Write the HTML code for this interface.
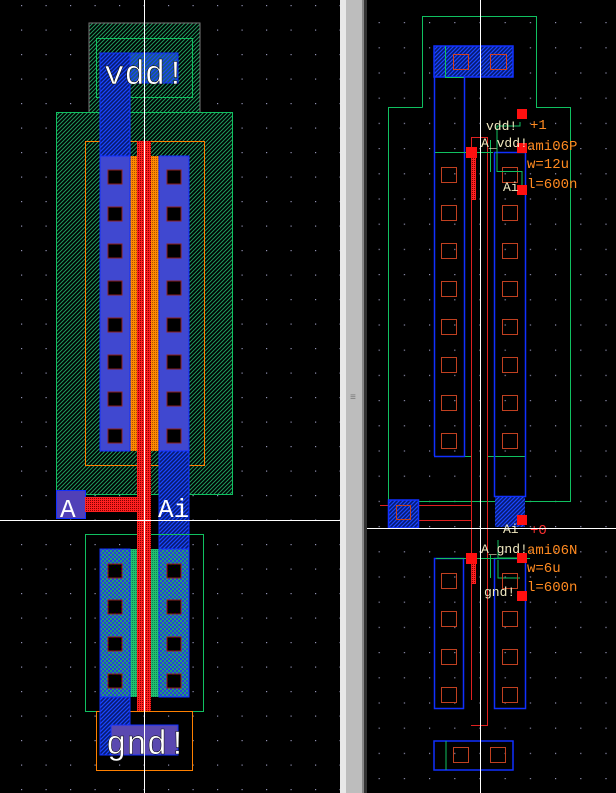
<!DOCTYPE html>
<html><head><meta charset="utf-8"><style>
html,body{margin:0;padding:0;background:#000;overflow:hidden}
svg{display:block}
text{font-family:"Liberation Mono","DejaVu Sans Mono",monospace}
</style></head><body>
<svg width="616" height="793" viewBox="0 0 616 793" xmlns="http://www.w3.org/2000/svg">
<defs>
<pattern id="gh" width="4" height="4" patternUnits="userSpaceOnUse"><rect width="4" height="4" fill="#000"/><path d="M-1,1 L1,-1 M0,4 L4,0 M3,5 L5,3" stroke="#1f9a5e" stroke-width="1"/></pattern>
<pattern id="bh" width="4" height="4" patternUnits="userSpaceOnUse"><rect width="4" height="4" fill="#061a70"/><path d="M-1,1 L1,-1 M0,4 L4,0 M3,5 L5,3" stroke="#1a46ff" stroke-width="1.2"/></pattern>
<pattern id="bgh" width="4" height="4" patternUnits="userSpaceOnUse"><rect width="4" height="4" fill="#1a5a7a"/><path d="M-1,1 L1,-1 M0,4 L4,0 M3,5 L5,3" stroke="#1a46ff" stroke-width="1.2"/></pattern>
<pattern id="pg" width="4" height="4" patternUnits="userSpaceOnUse"><rect width="4" height="4" fill="#2a3ae0"/><rect width="2" height="2" fill="#20a070"/><rect x="2" y="2" width="2" height="2" fill="#20a070"/></pattern>
<pattern id="or" width="2" height="2" patternUnits="userSpaceOnUse"><rect width="2" height="2" fill="#ff8a00"/><rect width="1" height="1" fill="#b05000"/></pattern>
<pattern id="gr" width="2" height="2" patternUnits="userSpaceOnUse"><rect width="2" height="2" fill="#20c070"/><rect width="1" height="1" fill="#108050"/></pattern>
<pattern id="rd" width="2" height="2" patternUnits="userSpaceOnUse"><rect width="2" height="2" fill="#ff2020"/><rect width="1" height="1" fill="#800000"/></pattern>
<pattern id="dots" x="21" y="5" width="24.5" height="24.5" patternUnits="userSpaceOnUse"><rect x="0" y="0" width="1.2" height="1.2" fill="#9090b0"/></pattern>
<pattern id="dots2" x="429" y="22" width="25.2" height="25.2" patternUnits="userSpaceOnUse"><rect x="0" y="0" width="1.2" height="1.2" fill="#9090b0"/></pattern>
</defs>
<rect width="616" height="793" fill="#000"/>
<rect x="0" y="0" width="340" height="793" fill="url(#dots)"/>
<rect x="367" y="0" width="249" height="793" fill="url(#dots2)"/>

<rect x="89" y="23" width="111" height="90" fill="url(#gh)" stroke="#777" stroke-width="1"/>
<rect x="96.5" y="38.5" width="96" height="59" fill="none" stroke="#10c060"/>
<rect x="56.5" y="112.5" width="176" height="382" fill="url(#gh)" stroke="#10c060"/>
<rect x="85.5" y="141.5" width="119" height="324" fill="none" stroke="#ff8000"/>
<rect x="100" y="53" width="78" height="30" fill="url(#bgh)" stroke="#1030ff"/>
<rect x="100" y="53" width="30" height="103" fill="url(#bh)" stroke="#1030ff"/>
<rect x="100" y="156" width="89" height="295" fill="url(#or)"/>
<rect x="100" y="156" width="30" height="295" fill="#4048d0" stroke="#1030ff"/>
<rect x="159" y="156" width="30" height="295" fill="#4048d0" stroke="#1030ff"/>
<rect x="137" y="141" width="14" height="390" fill="url(#rd)"/>
<g fill="#000" stroke="#8a2020">
<rect x="108" y="170" width="14" height="14"/><rect x="108" y="207" width="14" height="14"/><rect x="108" y="244" width="14" height="14"/><rect x="108" y="281" width="14" height="14"/><rect x="108" y="318" width="14" height="14"/><rect x="108" y="355" width="14" height="14"/><rect x="108" y="392" width="14" height="14"/><rect x="108" y="429" width="14" height="14"/>
<rect x="167" y="170" width="14" height="14"/><rect x="167" y="207" width="14" height="14"/><rect x="167" y="244" width="14" height="14"/><rect x="167" y="281" width="14" height="14"/><rect x="167" y="318" width="14" height="14"/><rect x="167" y="355" width="14" height="14"/><rect x="167" y="392" width="14" height="14"/><rect x="167" y="429" width="14" height="14"/>
</g>
<rect x="56.5" y="490.5" width="29" height="28" fill="#5040b8" stroke="#1030ff"/>
<rect x="85" y="497" width="52" height="15" fill="url(#rd)"/>
<rect x="159" y="451" width="30" height="100" fill="url(#bh)" stroke="#1030ff"/>
<text x="60" y="517" fill="#fff" font-size="26">A</text>
<text x="158" y="517" fill="#fff" font-size="26">Ai</text>
<rect x="85.5" y="534.5" width="118" height="177" fill="none" stroke="#10c060"/>
<rect x="100" y="549" width="89" height="148" fill="url(#gr)"/>
<rect x="100" y="549" width="30" height="148" fill="url(#pg)" stroke="#1030ff"/>
<rect x="159" y="549" width="30" height="148" fill="url(#pg)" stroke="#1030ff"/>
<rect x="137" y="531" width="14" height="180" fill="url(#rd)"/>
<g fill="#000" stroke="#8a2020">
<rect x="108" y="564" width="14" height="14"/><rect x="108" y="600" width="14" height="14"/><rect x="108" y="637" width="14" height="14"/><rect x="108" y="674" width="14" height="14"/>
<rect x="167" y="564" width="14" height="14"/><rect x="167" y="600" width="14" height="14"/><rect x="167" y="637" width="14" height="14"/><rect x="167" y="674" width="14" height="14"/>
</g>
<rect x="96.5" y="711.5" width="96" height="59" fill="none" stroke="#ff8000"/>
<rect x="100" y="697" width="30" height="58" fill="url(#bh)" stroke="#1030ff"/>
<rect x="111" y="725" width="67" height="30" fill="#5a48b0" stroke="#1030ff"/>
<text x="104" y="84" fill="#fff" font-size="34" style="stroke:#000;stroke-width:0.5">vdd!</text>
<text x="106" y="754" fill="#fff" font-size="34" style="stroke:#000;stroke-width:0.5">gnd!</text>
<line x1="144.5" y1="0" x2="144.5" y2="793" stroke="#fff"/>
<line x1="0" y1="520.5" x2="340" y2="520.5" stroke="#fff"/>

<rect x="340" y="0" width="27" height="793" fill="#e8e8e8"/>
<rect x="346" y="0" width="16" height="793" fill="#bdbdbd"/>
<rect x="362" y="0" width="2" height="793" fill="#888"/>
<rect x="364" y="0" width="3" height="793" fill="#333"/>
<text x="350" y="400" fill="#777" font-size="10">≡</text>

<polyline points="422.5,107.5 422.5,16.5 536.5,16.5 536.5,107.5 570.5,107.5 570.5,501.5 388.5,501.5 388.5,107.5 422.5,107.5" fill="none" stroke="#10c060"/>
<rect x="434" y="46" width="79" height="31" fill="url(#bh)" stroke="#1030ff" stroke-width="1.5"/>
<rect x="453.5" y="54.5" width="15" height="15" fill="none" stroke="#d04020"/>
<rect x="490.5" y="54.5" width="16" height="15" fill="none" stroke="#d04020"/>
<polyline points="445.5,46 445.5,77.5 464,77.5" fill="none" stroke="#10c060"/>
<line x1="434.5" y1="77" x2="434.5" y2="456" stroke="#1030ff" stroke-width="1.5"/>
<line x1="464.5" y1="77" x2="464.5" y2="456" stroke="#1030ff" stroke-width="1.5"/>
<line x1="434" y1="456.5" x2="465" y2="456.5" stroke="#1030ff" stroke-width="1.5"/>
<line x1="465" y1="456.5" x2="472" y2="456.5" stroke="#10c060"/>
<line x1="487" y1="456.5" x2="525" y2="456.5" stroke="#10c060"/>
<rect x="494.5" y="152.5" width="31" height="344" fill="none" stroke="#1030ff" stroke-width="1.5"/>
<rect x="495" y="497" width="30" height="30" fill="url(#bh)"/>
<polyline points="471.5,700 471.5,137.5 487.5,137.5 487.5,725" fill="none" stroke="#e02020"/>
<polyline points="380,505.5 471.5,505.5" fill="none" stroke="#e02020"/>
<line x1="418" y1="520.5" x2="471" y2="520.5" stroke="#e02020"/>
<g fill="none" stroke="#c04020">
<rect x="441.5" y="167.5" width="15" height="15"/><rect x="441.5" y="205.5" width="15" height="15"/><rect x="441.5" y="243.5" width="15" height="15"/><rect x="441.5" y="281.5" width="15" height="15"/><rect x="441.5" y="319.5" width="15" height="15"/><rect x="441.5" y="357.5" width="15" height="15"/><rect x="441.5" y="395.5" width="15" height="15"/><rect x="441.5" y="433.5" width="15" height="15"/>
<rect x="502.5" y="167.5" width="15" height="15"/><rect x="502.5" y="205.5" width="15" height="15"/><rect x="502.5" y="243.5" width="15" height="15"/><rect x="502.5" y="281.5" width="15" height="15"/><rect x="502.5" y="319.5" width="15" height="15"/><rect x="502.5" y="357.5" width="15" height="15"/><rect x="502.5" y="395.5" width="15" height="15"/><rect x="502.5" y="433.5" width="15" height="15"/>
</g>
<polyline points="435,152.5 493,152.5" stroke="#10c060" fill="none"/>
<polyline points="497,140 497,126 520,126 520,122" stroke="#10c060" fill="none"/>
<polyline points="497,140 497,171.5 522,171.5 522,185" stroke="#10c060" fill="none"/>
<line x1="490.5" y1="140" x2="490.5" y2="172" stroke="#10c060"/>
<rect x="517" y="109" width="10" height="10" fill="#ff1010"/>
<rect x="466" y="147" width="11" height="11" fill="#ff1010"/>
<rect x="517" y="143" width="10" height="10" fill="#ff1010"/>
<rect x="517" y="185" width="10" height="10" fill="#ff1010"/>
<rect x="472" y="158" width="4" height="42" fill="url(#rd)"/>
<text x="486" y="130" fill="#f0e8c0" font-size="13">vdd!</text>
<text x="481" y="147" fill="#f0e8c0" font-size="13">A_vdd!</text>
<text x="530" y="129" fill="#ff8a20" font-size="14">+1</text>
<text x="527" y="150" fill="#ff8a20" font-size="14">ami06P</text>
<text x="527" y="168" fill="#ff8a20" font-size="14">w=12u</text>
<text x="503" y="191" fill="#f0e8c0" font-size="13">Ai</text>
<text x="527" y="188" fill="#ff8a20" font-size="14">l=600n</text>
<rect x="388.5" y="500" width="30" height="28" fill="url(#bh)" stroke="#1030ff" stroke-width="1.5"/>
<rect x="396.5" y="505.5" width="14" height="14" fill="none" stroke="#c04020"/>
<rect x="434.5" y="558.5" width="29" height="150" fill="none" stroke="#1030ff" stroke-width="1.5"/>
<rect x="494.5" y="558.5" width="31" height="150" fill="none" stroke="#1030ff" stroke-width="1.5"/>
<line x1="436" y1="558.5" x2="530" y2="558.5" stroke="#10c060"/>
<polyline points="498,540 498,558 520,558" stroke="#10c060" fill="none"/>
<polyline points="498,560 498,578 520,578" stroke="#10c060" fill="none"/>
<line x1="490.5" y1="555" x2="490.5" y2="578" stroke="#10c060"/>
<g fill="none" stroke="#c04020">
<rect x="441.5" y="573.5" width="15" height="15"/><rect x="441.5" y="611.5" width="15" height="15"/><rect x="441.5" y="649.5" width="15" height="15"/><rect x="441.5" y="687.5" width="15" height="15"/>
<rect x="502.5" y="573.5" width="15" height="15"/><rect x="502.5" y="611.5" width="15" height="15"/><rect x="502.5" y="649.5" width="15" height="15"/><rect x="502.5" y="687.5" width="15" height="15"/>
</g>
<line x1="471" y1="725.5" x2="488" y2="725.5" stroke="#e02020"/>
<rect x="517" y="515" width="10" height="10" fill="#ff1010"/>
<rect x="466" y="553" width="11" height="11" fill="#ff1010"/>
<rect x="517" y="553" width="10" height="10" fill="#ff1010"/>
<rect x="517" y="591" width="10" height="10" fill="#ff1010"/>
<rect x="472" y="564" width="4" height="20" fill="url(#rd)"/>
<text x="503" y="533" fill="#f0e8c0" font-size="13">Ai</text>
<text x="530" y="534" fill="#ff3030" font-size="14">+0</text>
<text x="481" y="553" fill="#f0e8c0" font-size="13">A_gnd!</text>
<text x="527" y="554" fill="#ff8a20" font-size="14">ami06N</text>
<text x="527" y="572" fill="#ff8a20" font-size="14">w=6u</text>
<text x="484" y="596" fill="#f0e8c0" font-size="13">gnd!</text>
<text x="527" y="591" fill="#ff8a20" font-size="14">l=600n</text>
<rect x="434" y="741" width="79" height="29" fill="none" stroke="#1030ff" stroke-width="1.5"/>
<rect x="453.5" y="747.5" width="15" height="15" fill="none" stroke="#c04020"/>
<rect x="490.5" y="747.5" width="15" height="15" fill="none" stroke="#c04020"/>
<polyline points="446,741 446,770" stroke="#10c060" fill="none"/>
<line x1="480.5" y1="0" x2="480.5" y2="793" stroke="#fff"/>
<line x1="367" y1="528.5" x2="616" y2="528.5" stroke="#fff"/>
</svg>
</body></html>
